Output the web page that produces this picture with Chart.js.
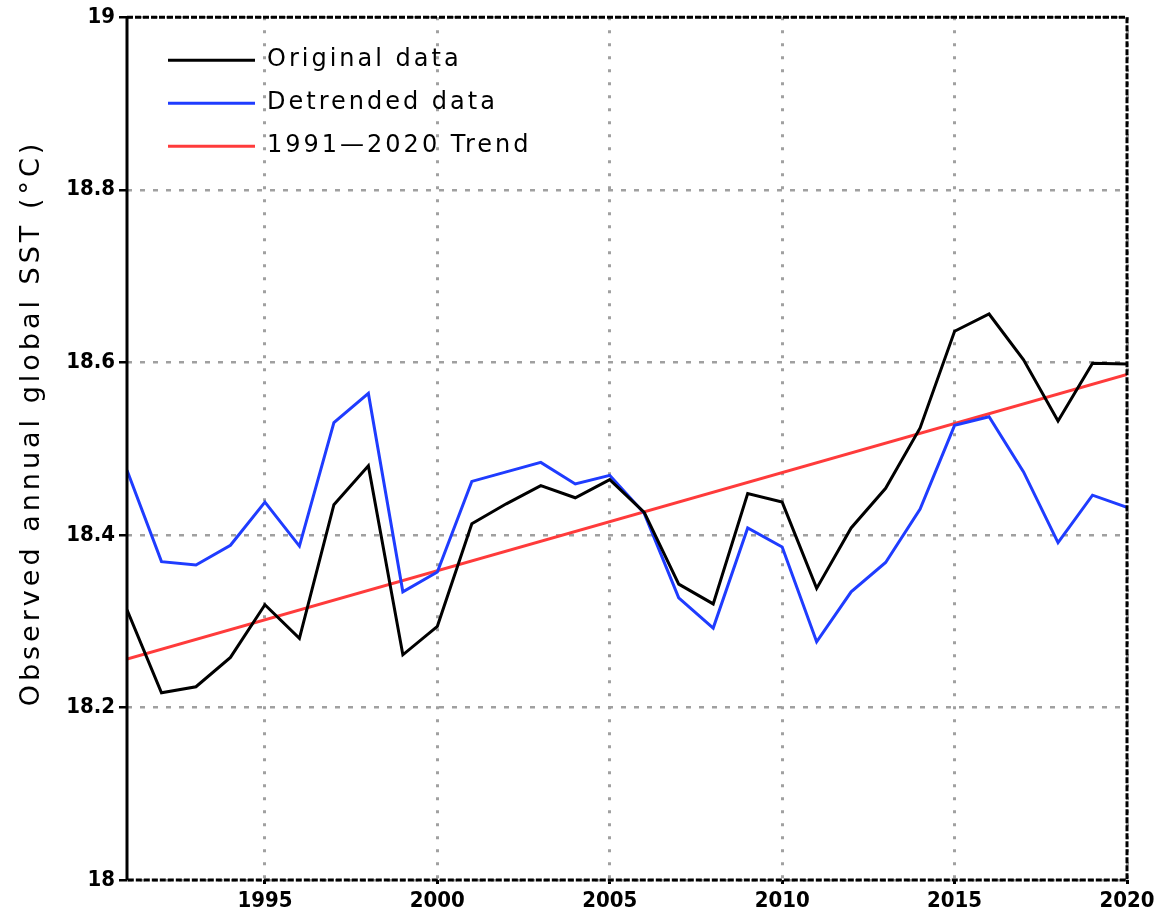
<!DOCTYPE html>
<html>
<head>
<meta charset="utf-8">
<script src="https://cdn.jsdelivr.net/npm/chart.js@4.4.1/dist/chart.umd.min.js"></script>
<style>
  html, body { margin: 0; padding: 0; background: #fff; }
  #wrap { width: 1160px; height: 922px; }
</style>
</head>
<body>
<div id="wrap"><canvas id="sstChart" width="1160" height="922"></canvas></div>
<script>
// annual global SST
const years = [1991,1992,1993,1994,1995,1996,1997,1998,1999,2000,
               2001,2002,2003,2004,2005,2006,2007,2008,2009,2010,
               2011,2012,2013,2014,2015,2016,2017,2018,2019,2020];

const original = [18.313,18.217,18.224,18.258,18.319,18.280,18.435,18.480,18.261,18.294,
                  18.413,18.436,18.457,18.443,18.464,18.426,18.343,18.320,18.448,18.438,
                  18.338,18.408,18.454,18.524,18.636,18.656,18.603,18.532,18.599,18.598];

const detrended = [18.475,18.369,18.365,18.388,18.438,18.387,18.530,18.564,18.334,18.357,
                   18.462,18.473,18.484,18.459,18.469,18.425,18.327,18.292,18.408,18.386,
                   18.276,18.334,18.368,18.430,18.527,18.537,18.473,18.391,18.446,18.432];

// trend line end points
const trendYears = [1991, 2020];
const trendValues = [18.256, 18.586];

const xTicks = [1995, 2000, 2005, 2010, 2015, 2020];
const yTicks = [18, 18.2, 18.4, 18.6, 18.8, 19];

const labels = ['Original data', 'Detrended data', '1991\u20142020 Trend'];
const colors = ['#000000', '#1f3cff', '#ff3b3b'];

const pts = (xs, ys) => xs.map((x, i) => ({ x: x, y: ys[i] }));

// legend drawn inside the plot, top left
const insideLegend = {
  id: 'insideLegend',
  afterDatasetsDraw(chart) {
    const ctx = chart.ctx;
    const a = chart.chartArea;
    ctx.save();
    ctx.font = '24px "DejaVu Sans"';
    ctx.letterSpacing = '3px';
    ctx.textBaseline = 'middle';
    chart.data.datasets.forEach((ds, i) => {
      const y = a.top + 43 + i * 43;
      ctx.strokeStyle = ds.borderColor;
      ctx.lineWidth = 3;
      ctx.beginPath();
      ctx.moveTo(a.left + 41, y);
      ctx.lineTo(a.left + 128, y);
      ctx.stroke();
      ctx.fillStyle = '#000';
      ctx.fillText(ds.label, a.left + 140, y);
    });
    ctx.restore();
  }
};

// axis title + frame
const frameAndTitle = {
  id: 'frameAndTitle',
  afterDraw(chart) {
    const ctx = chart.ctx;
    const a = chart.chartArea;
    ctx.save();
    ctx.strokeStyle = '#000';
    ctx.lineWidth = 3;
    ctx.beginPath();
    ctx.moveTo(a.left, a.top);
    ctx.lineTo(a.left, a.bottom);
    ctx.stroke();
    ctx.setLineDash([6, 2]);
    ctx.beginPath();
    ctx.moveTo(a.left, a.top);
    ctx.lineTo(a.right, a.top);
    ctx.lineTo(a.right, a.bottom);
    ctx.lineTo(a.left, a.bottom);
    ctx.stroke();
    ctx.setLineDash([]);

    ctx.translate(32, 423);
    ctx.rotate(-Math.PI / 2);
    ctx.font = '27px "DejaVu Sans"';
    ctx.letterSpacing = '4px';
    ctx.fillStyle = '#000';
    ctx.textAlign = 'center';
    ctx.textBaseline = 'middle';
    ctx.fillText('Observed annual global SST (\u00B0C)', 0, 0);
    ctx.restore();
  }
};

const tickFont = { family: '"DejaVu Sans Condensed", "Liberation Sans Narrow", sans-serif', size: 22, weight: 'bold' };

new Chart(document.getElementById('sstChart'), {
  type: 'line',
  data: {
    datasets: [
      { label: labels[0], data: pts(years, original), borderColor: colors[0], borderWidth: 3, pointRadius: 0, tension: 0 },
      { label: labels[1], data: pts(years, detrended), borderColor: colors[1], borderWidth: 3, pointRadius: 0, tension: 0 },
      { label: labels[2], data: pts(trendYears, trendValues), borderColor: colors[2], borderWidth: 3, pointRadius: 0, tension: 0 }
    ]
  },
  options: {
    responsive: false,
    animation: false,
    layout: { padding: { top: 17, right: 33, left: 0, bottom: 0 } },
    plugins: {
      legend: { display: false },
      tooltip: { enabled: false }
    },
    scales: {
      x: {
        type: 'linear',
        min: 1991,
        max: 2020,
        afterBuildTicks: s => { s.ticks = xTicks.map(v => ({ value: v })); },
        afterFit: s => { s.height = 42; },
        border: { display: false, dash: [3, 10] },
        grid: {
          color: '#a0a0a0',
          lineWidth: 3,
          tickLength: 4,
          tickColor: '#000'
        },
        ticks: {
          color: '#000',
          padding: 4,
          maxRotation: 0,
          font: tickFont,
          callback: v => String(v)
        }
      },
      y: {
        min: 18,
        max: 19,
        afterBuildTicks: s => { s.ticks = yTicks.map(v => ({ value: v })); },
        afterFit: s => { s.width = 127; },
        border: { display: false, dash: [5, 8] },
        grid: {
          color: '#a0a0a0',
          lineWidth: 2.5,
          tickLength: 8,
          tickColor: '#000'
        },
        ticks: {
          color: '#000',
          padding: 4,
          font: tickFont,
          callback: v => String(Number(v.toFixed(1)))
        }
      }
    }
  },
  plugins: [insideLegend, frameAndTitle]
});
</script>
</body>
</html>
